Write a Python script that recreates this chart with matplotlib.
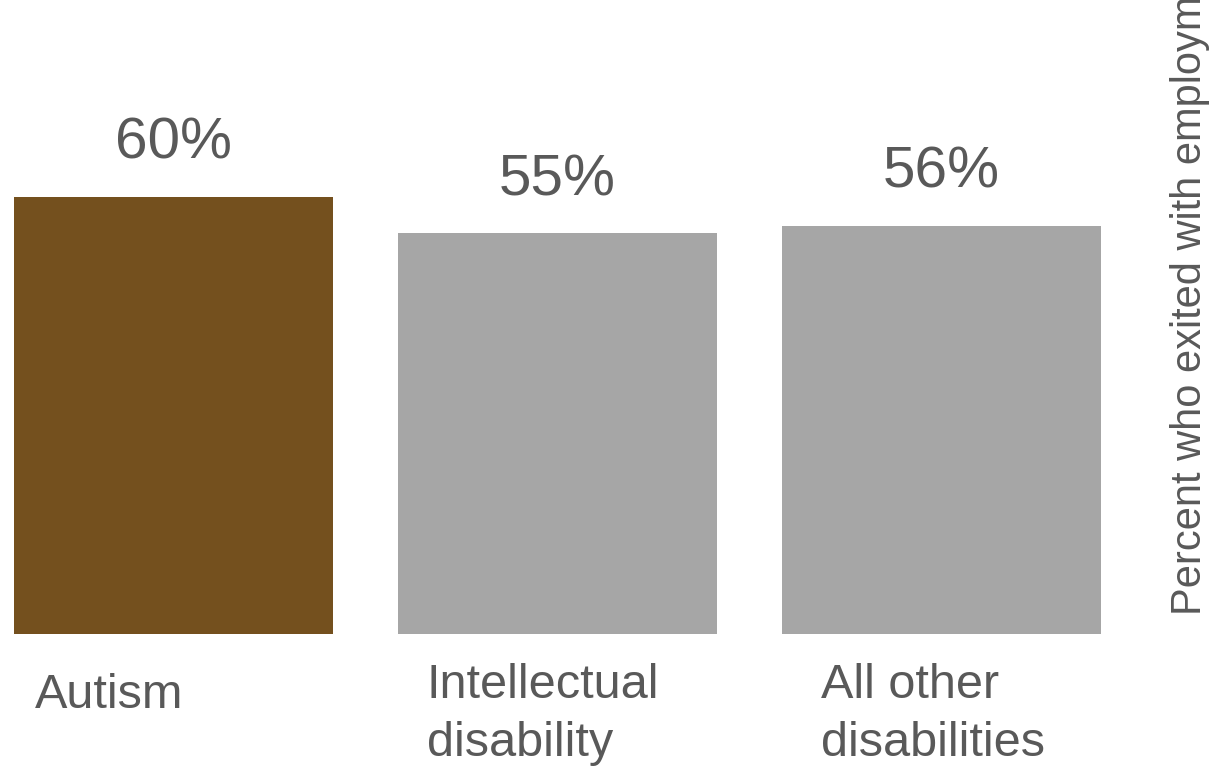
import matplotlib.pyplot as plt

plt.rcParams['font.family'] = ['Liberation Sans', 'DejaVu Sans']

categories = ["Autism", "Intellectual\ndisability", "All other\ndisabilities"]
values = [60, 55, 56]
bar_colors = ["#74501E", "#A6A6A6", "#A6A6A6"]
y_label = "Percent who exited with employment"

text_color = "#595959"
W, H = 1212, 770

fig = plt.figure(figsize=(W / 100, H / 100), dpi=100)
# axes placed in pixel terms: bars span x 14..1101, baseline at y=634, 60% top at y=197
ax = fig.add_axes([14 / W, (H - 634) / H, (1101 - 14) / W, 437 / H])
x = range(len(categories))
bw = 0.83
ax.bar(x, values, width=bw, color=bar_colors)
ax.set_xlim(-bw / 2, len(categories) - 1 + bw / 2)
ax.set_ylim(0, 60)
ax.axis("off")

for i, v in enumerate(values):
    ax.annotate(f"{v}%", (i, v), xytext=(0, 19), textcoords="offset points",
                ha="center", va="bottom", fontsize=42, color=text_color)

# category labels sit left-aligned under each bar
label_dx = [0.055, 0.075, 0.1]
label_dy = [-28, -21, -21]
for i, lab in enumerate(categories):
    ax.annotate(lab, (i - bw / 2 + label_dx[i], 0), xytext=(0, label_dy[i]),
                textcoords="offset points", ha="left", va="top",
                fontsize=35, color=text_color, linespacing=1.38,
                annotation_clip=False)

fig.text(1190 / W, (H - 615) / H, y_label, rotation=90, ha="center",
         va="bottom", fontsize=30, color=text_color)

fig.savefig("out.png", dpi=100)
